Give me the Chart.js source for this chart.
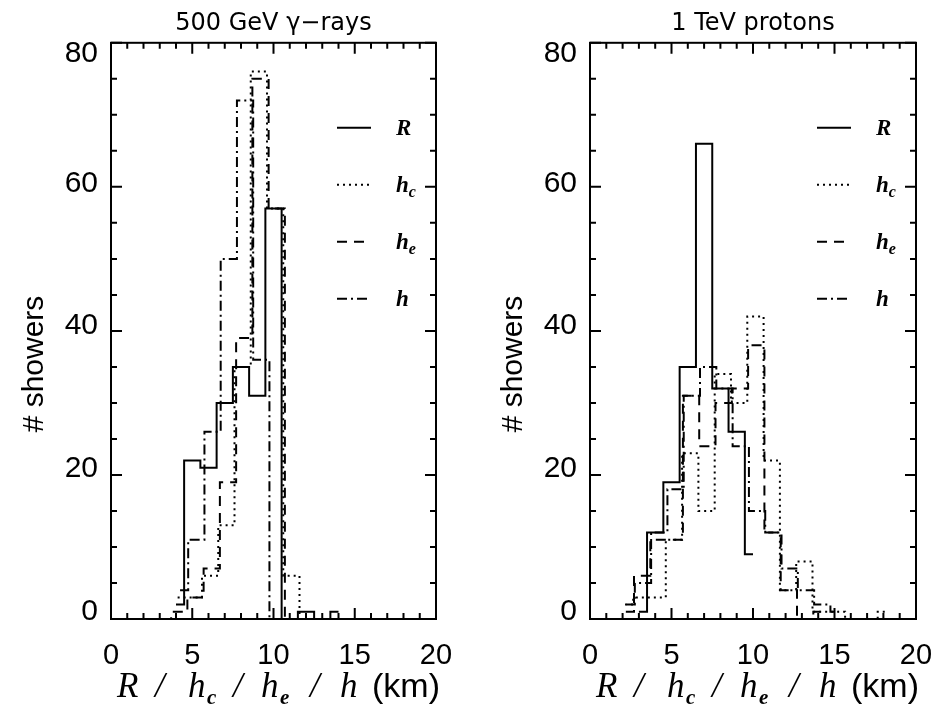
<!DOCTYPE html>
<html>
<head>
<meta charset="utf-8">
<script src="https://cdn.jsdelivr.net/npm/chart.js@4.4.1/dist/chart.umd.min.js"></script>
<style>
  html, body { margin: 0; padding: 0; background: #fff; }
  #wrap { position: relative; width: 936px; height: 706px; overflow: hidden; }
  canvas { position: absolute; top: 0; }
</style>
</head>
<body>
<div id="wrap">
  <canvas id="gamma_chart" width="468" height="706" style="left:0"></canvas>
  <canvas id="proton_chart" width="457" height="706" style="left:479px"></canvas>
</div>
<script>
// Histograms drawn IDL psym=10 style: one point per bin centre (km), counts per bin.
// Every quantity was histogrammed from its own minimum, so each has its own centres.

// 500 GeV gamma-rays
const gammaRKm  = [4, 5, 6, 7, 8, 9, 10, 11, 12, 13, 14]
const gammaRN   = [2, 22, 21, 30, 35, 31, 57, 0, 1, 0, 1]
const gammaHcKm = [4.1, 5.1, 6.1, 7.1, 8.1, 9.1, 10.1, 11.1, 12.1]
const gammaHcN  = [3, 3, 6, 13, 35, 76, 57, 6, 0]
const gammaHeKm = [3.2, 4.2, 5.2, 6.2, 7.2, 8.2, 9.2, 10.2, 11.2]
const gammaHeN  = [0, 1, 3, 7, 19, 39, 75, 57, 0]
const gammaHKm  = [4.25, 5.25, 6.25, 7.25, 8.25, 9.25, 10.25]
const gammaHN   = [4, 11, 26, 50, 72, 36, 0]

// 1 TeV protons
const protonRKm  = [3, 4, 5, 6, 7, 8, 9, 10]
const protonRN   = [1, 12, 19, 35, 66, 32, 26, 9]
const protonHcKm = [2.15, 3.15, 4.15, 5.15, 6.15, 7.15, 8.15, 9.15, 10.15, 11.15, 12.15, 13.15, 14.15, 15.15, 16.15, 17.15, 18.15]
const protonHcN  = [2, 3, 3, 11, 23, 15, 34, 30, 42, 22, 4, 8, 1, 1, 0, 0, 1]
const protonHeKm = [2.2, 3.2, 4.2, 5.2, 6.2, 7.2, 8.2, 9.2, 10.2, 11.2, 12.2, 13.2, 14.2]
const protonHeN  = [1, 6, 11, 11, 31, 24, 30, 32, 38, 12, 4, 0, 1]
const protonHKm  = [2.25, 3.25, 4.25, 5.25, 6.25, 7.25, 8.25, 9.25, 10.25, 11.25, 12.25, 13.25, 14.25, 15.25]
const protonHN   = [2, 5, 12, 18, 31, 35, 32, 24, 15, 12, 7, 4, 2, 1]

const xTicks = [0, 5, 10, 15, 20]
const yTicks = [0, 20, 40, 60, 80]
// the y labels of the original sit a little off their ticks (80 lower, 0 higher)
const yLabelAt = [1.0, 20.9, 40.7, 60.5, 78.5]
const seriesNames = ['R', 'h|c', 'h|e', 'h']

const styles = [
    [],            // R: solid
    [2, 4],        // h_c: dotted
    [10, 7],       // h_e: dashed
    [10, 4, 2, 4]  // h: dash-dot
]

function makeDatasets(series) {
    return series.map(([km, n], i) => ({
        label: seriesNames[i],
        data: km.map((x, k) => ({ x: x, y: n[k] })),
        stepped: 'middle',
        borderColor: '#000',
        borderWidth: 2,
        borderDash: styles[i],
        pointRadius: 0,
        fill: false
    }))
}

// "|" in a label: the rest is a subscript
function drawLabel(ctx, txt, x, y, font, subFont) {
    const parts = txt.split('|')
    ctx.font = font
    ctx.fillText(parts[0], x, y)
    if (parts[1]) {
        const w = ctx.measureText(parts[0]).width
        ctx.font = subFont
        ctx.fillText(parts[1], x + w, y + 5)
    }
}

// box with inward ticks on all four sides, legend inside, axis titles
const framePlugin = {
    id: 'frame',
    afterDraw(chart) {
        const { ctx, chartArea: a, scales } = chart
        const xs = scales.x, ys = scales.y
        ctx.save()
        ctx.strokeStyle = '#000'
        ctx.lineWidth = 2
        ctx.setLineDash([])
        ctx.strokeRect(a.left, a.top, a.right - a.left, a.bottom - a.top)
        ctx.beginPath()
        for (let v = 0; v <= 20; v++) {
            const px = xs.getPixelForValue(v)
            const len = v % 5 === 0 ? 11 : 6
            ctx.moveTo(px, a.bottom); ctx.lineTo(px, a.bottom - len)
            ctx.moveTo(px, a.top); ctx.lineTo(px, a.top + len)
        }
        for (let v = 0; v <= 80; v += 5) {
            const py = ys.getPixelForValue(v)
            const len = v % 20 === 0 ? 11 : 6
            ctx.moveTo(a.left, py); ctx.lineTo(a.left + len, py)
            ctx.moveTo(a.right, py); ctx.lineTo(a.right - len, py)
        }
        ctx.stroke()

        // legend
        ctx.fillStyle = '#000'
        ctx.textBaseline = 'alphabetic'
        ctx.textAlign = 'left'
        chart.data.datasets.forEach((ds, i) => {
            const y = a.top + 85 + i * 57
            ctx.beginPath()
            ctx.setLineDash(ds.borderDash)
            ctx.lineWidth = 2
            ctx.moveTo(a.right - 99, y)
            ctx.lineTo(a.right - 65, y)
            ctx.stroke()
            ctx.setLineDash([])
            drawLabel(ctx, ds.label, a.right - 40, y + 7,
                'italic bold 23px "Liberation Serif"', 'italic bold 16px "Liberation Serif"')
        })

        // x-axis title: R / h_c / h_e / h (km)
        const serif = 'italic 35px "Liberation Serif"'
        const sub = 'italic bold 21px "Liberation Serif"'
        const sans = '34px "Liberation Sans"'
        const pieces = [
            ['R', serif, 6, 0], ['/', serif, 44, 0], ['h', serif, 77, 0], ['c', sub, 96, 7],
            ['/', serif, 122, 0], ['h', serif, 150, 0], ['e', sub, 169, 7],
            ['/', serif, 199, 0], ['h', serif, 229, 0], ['(km)', sans, 261, 0]
        ]
        pieces.forEach(p => {
            ctx.font = p[1]
            ctx.fillText(p[0], a.left + p[2], 697 + p[3])
        })

        // y-axis title, sitting a bit below the middle as in the original
        ctx.translate(35, 364)
        ctx.rotate(-Math.PI / 2)
        ctx.textAlign = 'center'
        ctx.textBaseline = 'middle'
        ctx.font = '30px "Liberation Sans"'
        ctx.fillText('# showers', 0, 0)
        ctx.restore()
    }
}

function makeChart(id, title, series, padRight) {
    const ctx = document.getElementById(id).getContext('2d')
    return new Chart(ctx, {
        type: 'line',
        data: { datasets: makeDatasets(series) },
        options: {
            responsive: false,
            animation: false,
            events: [],
            layout: { padding: { left: 0, right: padRight, top: 0, bottom: 0 } },
            plugins: {
                legend: { display: false },
                tooltip: { enabled: false },
                title: {
                    display: true,
                    fullSize: false,
                    text: title,
                    color: '#000',
                    font: { family: '"DejaVu Sans"', size: 24, weight: 'normal', lineHeight: 1.2 },
                    padding: { top: 9, bottom: 5 }
                }
            },
            scales: {
                x: {
                    type: 'linear',
                    min: 0,
                    max: 20,
                    afterBuildTicks: s => { s.ticks = xTicks.map(v => ({ value: v })) },
                    afterFit: s => { s.height = 87; s.paddingLeft = 0; s.paddingRight = 0 },
                    grid: { display: false, drawTicks: false },
                    border: { display: false },
                    ticks: {
                        color: '#000',
                        font: { family: '"Liberation Sans"', size: 29 },
                        padding: 20,
                        maxRotation: 0,
                        autoSkip: false
                    }
                },
                y: {
                    type: 'linear',
                    min: 0,
                    max: 80,
                    afterBuildTicks: s => { s.ticks = yLabelAt.map(v => ({ value: v })) },
                    afterFit: s => { s.width = 111; s.paddingTop = 0; s.paddingBottom = 0 },
                    grid: { display: false, drawTicks: false },
                    border: { display: false },
                    ticks: {
                        color: '#000',
                        font: { family: '"Liberation Sans"', size: 30 },
                        padding: 13,
                        callback: (v, i) => String(yTicks[i])
                    }
                }
            }
        },
        plugins: [framePlugin]
    })
}

makeChart('gamma_chart', '500 GeV \u03b3\u2212rays', [
    [gammaRKm, gammaRN], [gammaHcKm, gammaHcN], [gammaHeKm, gammaHeN], [gammaHKm, gammaHN]
], 32)
makeChart('proton_chart', '1 TeV protons', [
    [protonRKm, protonRN], [protonHcKm, protonHcN], [protonHeKm, protonHeN], [protonHKm, protonHN]
], 20)
</script>
</body>
</html>
